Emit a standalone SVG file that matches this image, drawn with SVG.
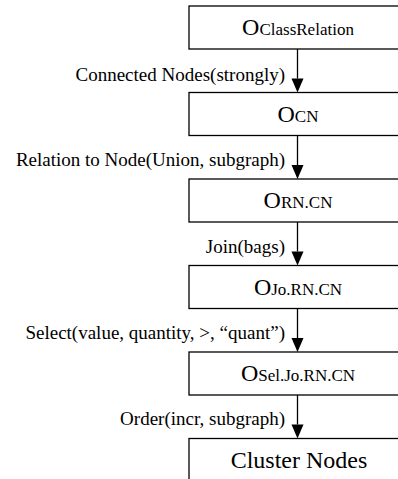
<svg xmlns="http://www.w3.org/2000/svg" width="398" height="479" viewBox="0 0 398 479">
<style>
.box{fill:#fff;stroke:#000;stroke-width:1.3}
.t{font-family:'Liberation Serif','Times New Roman',Times,'DejaVu Serif',serif;fill:#000}
.bt{font-size:24px;text-anchor:middle}
.sub{font-size:17px}
.lb{font-size:19px;text-anchor:end}
.ln{stroke:#000;stroke-width:1.3}
</style>
<g id="connectors">
<line class="ln" x1="297.5" y1="49" x2="297.5" y2="78.5"/><path d="M291.5,78.5 L303.5,78.5 L297.5,92.5 Z"/>
<line class="ln" x1="297.5" y1="135.5" x2="297.5" y2="165"/><path d="M291.5,165 L303.5,165 L297.5,179 Z"/>
<line class="ln" x1="297.5" y1="222" x2="297.5" y2="251.5"/><path d="M291.5,251.5 L303.5,251.5 L297.5,265.5 Z"/>
<line class="ln" x1="297.5" y1="308.5" x2="297.5" y2="338"/><path d="M291.5,338 L303.5,338 L297.5,352 Z"/>
<line class="ln" x1="297.5" y1="395" x2="297.5" y2="424.5"/><path d="M291.5,424.5 L303.5,424.5 L297.5,438.5 Z"/>
<text class="t lb" x="285" y="81" font-family="Liberation Serif, serif">Connected Nodes(strongly)</text>
<text class="t lb" x="285" y="166" font-family="Liberation Serif, serif">Relation to Node(Union, subgraph)</text>
<text class="t lb" x="285" y="253" font-family="Liberation Serif, serif">Join(bags)</text>
<text class="t lb" x="285" y="339" font-family="Liberation Serif, serif">Select(value, quantity, &gt;, “quant”)</text>
<text class="t lb" x="285" y="425" font-family="Liberation Serif, serif">Order(incr, subgraph)</text>
</g>
<g id="n1"><rect class="box" x="189" y="6" width="230" height="43"/><text class="t bt" x="298" y="35">O<tspan class="sub">ClassRelation</tspan></text></g>
<g id="n2"><rect class="box" x="189" y="92.5" width="230" height="43"/><text class="t bt" x="298" y="121.5">O<tspan class="sub">CN</tspan></text></g>
<g id="n3"><rect class="box" x="189" y="179" width="230" height="43"/><text class="t bt" x="298" y="208">O<tspan class="sub">RN.CN</tspan></text></g>
<g id="n4"><rect class="box" x="189" y="265.5" width="230" height="43"/><text class="t bt" x="298" y="294.5">O<tspan class="sub">Jo.RN.CN</tspan></text></g>
<g id="n5"><rect class="box" x="189" y="352" width="230" height="43"/><text class="t bt" x="298" y="381">O<tspan class="sub">Sel.Jo.RN.CN</tspan></text></g>
<g id="n6"><rect class="box" x="189" y="438.5" width="230" height="60"/><text class="t bt" x="299" y="468">Cluster Nodes</text></g>
</svg>
